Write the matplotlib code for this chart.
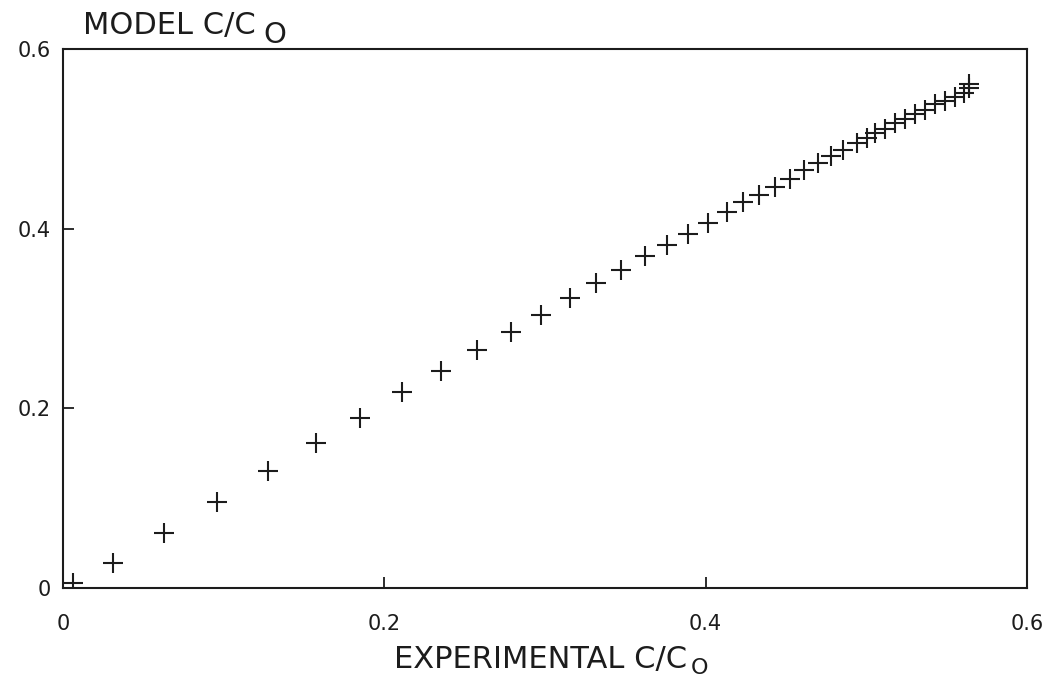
import matplotlib
matplotlib.use("Agg")
import matplotlib.pyplot as plt

plt.rcParams['font.family'] = ['DejaVu Sans']

experimental = [0.0064, 0.0314, 0.0627, 0.0956, 0.1273, 0.1575, 0.185, 0.211, 0.2352,
                0.2575, 0.2788, 0.2977, 0.3158, 0.332, 0.3471, 0.3621, 0.3758, 0.3892,
                0.4013, 0.4133, 0.4231, 0.4331, 0.4429, 0.4523, 0.4613, 0.470, 0.4783,
                0.4856, 0.4939, 0.5002, 0.5054, 0.5117, 0.5179, 0.5242, 0.5304, 0.5367,
                0.5429, 0.5492, 0.5554, 0.5606, 0.5638, 0.5638]
model = [0.0059, 0.0282, 0.061, 0.0962, 0.130, 0.1613, 0.1893, 0.2177, 0.2419,
         0.2653, 0.2854, 0.3043, 0.323, 0.3397, 0.3545, 0.3693, 0.3816, 0.3946,
         0.4058, 0.4184, 0.4295, 0.4373, 0.4467, 0.4556, 0.4649, 0.4735, 0.4808,
         0.4872, 0.495, 0.5013, 0.5069, 0.5106, 0.518, 0.5225, 0.5273, 0.5321,
         0.5385, 0.5421, 0.547, 0.5515, 0.5571, 0.5608]
ticks = [0, 0.2, 0.4, 0.6]
tick_labels = ["0", "0.2", "0.4", "0.6"]

W, H = 1054, 688
fig = plt.figure(figsize=(W / 100, H / 100), dpi=100)
ax = fig.add_axes([63 / W, 100 / H, 964 / W, 539 / H])
ink = '#1c1c1c'
ax.plot(experimental, model, linestyle='none', marker='+', markersize=14,
        markeredgewidth=1.5, color=ink)
ax.set_xlim(0, 0.6)
ax.set_ylim(0, 0.6)
ax.set_xticks(ticks)
ax.set_xticklabels(tick_labels)
ax.set_yticks(ticks)
ax.set_yticklabels(tick_labels)
for s in ax.spines.values():
    s.set_linewidth(1.5)
    s.set_color(ink)
ax.tick_params(direction='in', length=8, width=1.3, labelsize=15, colors=ink)
ax.tick_params(axis='x', pad=19)
ax.tick_params(axis='y', pad=9)

# axis titles with separate subscript "O"
fig.canvas.draw()
r = fig.canvas.get_renderer()

ty = fig.text(169 / W, 654 / H, "MODEL C/C", fontsize=22,
              color=ink, ha='center', va='baseline')
tx = fig.text(541 / W, 20 / H, "EXPERIMENTAL C/C", fontsize=22,
              color=ink, ha='center', va='baseline')
bby = ty.get_window_extent(r)
bbx = tx.get_window_extent(r)
fig.text((bby.x1 + 8) / W, 645 / H, "O", fontsize=21, color=ink,
         ha='left', va='baseline')
fig.text((bbx.x1 + 3) / W, 14 / H, "O", fontsize=16, color=ink,
         ha='left', va='baseline')

fig.savefig("out.png", dpi=100)
